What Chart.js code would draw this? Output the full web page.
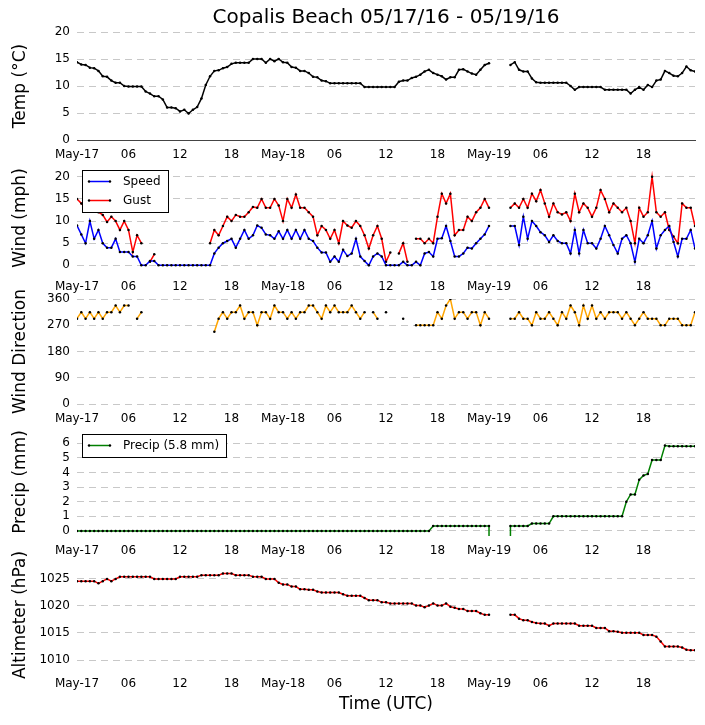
<!DOCTYPE html>
<html>
<head>
<meta charset="utf-8">
<title>Copalis Beach 05/17/16 - 05/19/16</title>
<script src="https://cdn.jsdelivr.net/npm/chart.js@4.4.1/dist/chart.umd.min.js"></script>
<style>
  body { margin: 0; background: #fff; }
  #wrap { position: relative; width: 705px; height: 725px; overflow: hidden; }
  canvas { position: absolute; left: 0; }
</style>
</head>
<body>
<div id="wrap">
  <canvas id="temp" width="705" height="168" style="top:0px"></canvas>
  <canvas id="wind" width="705" height="152" style="top:148px"></canvas>
  <canvas id="dir" width="705" height="149" style="top:283px"></canvas>
  <canvas id="precip" width="705" height="152" style="top:412px"></canvas>
  <canvas id="alt" width="705" height="174" style="top:545px"></canvas>
</div>
<script>
// time axis: hours since May-17 00:00 UTC, one reading every 30 min
const hours = Array.from({ length: 145 }, (_, i) => i / 2);
const tickHours = [0, 6, 12, 18, 24, 30, 36, 42, 48, 54, 60, 66];
const tickLabels = ['May-17', '06', '12', '18', 'May-18', '06', '12', '18', 'May-19', '06', '12', '18'];

const tempTicks = [0, 5, 10, 15, 20];
const windTicks = [0, 5, 10, 15, 20];
const dirTicks = [0, 90, 180, 270, 360];
const precipTicks = [0, 1, 2, 3, 4, 5, 6];
const altTicks = [1010, 1015, 1020, 1025];

// one row = 6 hours
const temperature = [
  14.4, 14.0, 13.9, 13.4, 13.3, 12.8, 11.8, 11.7, 11.0, 10.6, 10.6, 10.0,
  9.9, 9.9, 9.9, 9.9, 9.0, 8.6, 8.1, 8.1, 7.5, 6.0, 6.0, 5.9,
  5.3, 5.6, 4.9, 5.6, 6.1, 7.7, 10.2, 11.8, 12.8, 12.9, 13.3, 13.5,
  14.1, 14.3, 14.3, 14.3, 14.3, 15.0, 15.0, 15.0, 14.3, 15.0, 14.6, 15.0,
  14.4, 14.3, 13.5, 13.4, 12.8, 12.8, 12.4, 11.7, 11.6, 11.0, 10.9, 10.5,
  10.5, 10.5, 10.5, 10.5, 10.5, 10.5, 10.5, 9.8, 9.8, 9.8, 9.8, 9.8,
  9.8, 9.8, 9.8, 10.8, 11.0, 11.0, 11.5, 11.7, 12.1, 12.7, 13.0, 12.4,
  12.1, 11.8, 11.2, 11.6, 11.6, 13.0, 13.1, 12.7, 12.3, 12.1, 13.0, 13.9,
  14.2, null, null, null, null, 13.9, 14.4, 13.0, 12.7, 12.7, 11.4, 10.7,
  10.6, 10.6, 10.6, 10.6, 10.6, 10.6, 10.6, 10.0, 9.3, 9.8, 9.8, 9.8,
  9.8, 9.8, 9.8, 9.3, 9.3, 9.3, 9.3, 9.3, 9.3, 8.6, 9.3, 9.8,
  9.3, 10.2, 9.8, 11.0, 11.2, 12.8, 12.4, 11.9, 11.8, 12.4, 13.6, 12.9,
  12.7
];

const windSpeed = [
  9, 7, 5, 10, 6, 8, 5, 4, 4, 6, 3, 3,
  3, 2, 2, 0, 0, 1, 1, 0, 0, 0, 0, 0,
  0, 0, 0, 0, 0, 0, 0, 0, 2.7, 4, 5, 5.5,
  6, 4, 6, 8, 6, 6.8, 9, 8.5, 7, 6.8, 6, 7.7,
  6, 8, 6, 8, 6, 8, 6, 5.5, 4, 2.9, 2.9, 0.8,
  2, 0.8, 3.5, 2.1, 2.7, 6, 2, 1, 0, 2, 2.7, 2,
  0, 0, 0, 0, 0.8, 0, 0, 0.8, 0, 2.7, 3, 2,
  6, 6.1, 8.9, 5.5, 2, 2, 2.7, 4, 3.8, 5, 6, 7,
  8.9, null, null, null, null, 8.9, 8.9, 4.6, 11, 6, 10, 8.9,
  7.5, 6.8, 5.3, 6.8, 5.5, 5, 5, 2.7, 8, 2.7, 8, 5,
  5, 3.8, 6, 8.9, 6.8, 4.6, 2.7, 6, 6.8, 5, 0.8, 6,
  5, 6.8, 10, 3.8, 6.8, 8, 8.9, 5.3, 2, 6, 6, 8,
  3.8
];

const windGust = [
  15, 14, 13, 14, 13, 12, 11.4, 9.8, 11, 10, 8, 10,
  8, 3, 6.8, 5, null, 0.8, 2.5, null, null, null, null, null,
  null, null, null, null, null, null, null, 5, 8, 6.8, 8.9, 11,
  10, 11.4, 11, 11, 12, 13.2, 13, 15, 13, 13, 15, 13.5,
  10, 15, 13, 16, 13, 13, 12, 11, 6.8, 8.9, 8, 6,
  8, 5, 10, 9, 8.5, 10, 8.9, 6.8, 3.8, 6.8, 8.9, 6,
  0.8, 2.9, null, 2.7, 5, 0.8, null, 6, 6, 5, 6, 5,
  11, 16.2, 14, 16.2, 6.8, 8, 8, 11, 10, 12, 13, 15,
  13, null, null, null, null, 13, 14, 13, 15, 13, 16.2, 14.5,
  17, 14, 11, 14, 12, 11.5, 12, 10, 16.2, 12, 14, 13,
  11, 13, 17, 15, 12, 14, 13, 12, 13, 10, 5, 13,
  11, 12, 20, 12, 11, 12, 8, 6.5, 5, 14, 13, 13,
  8.9
];

const windDir = [
  292.5, 315, 292.5, 315, 292.5, 315, 292.5, 315, 315, 337.5, 315, 337.5,
  337.5, null, 292.5, 315, null, null, null, null, null, null, null, null,
  null, null, null, null, null, null, null, null, 247.5, 292.5, 315, 292.5,
  315, 315, 337.5, 292.5, 315, 315, 270, 315, 315, 292.5, 337.5, 315,
  315, 292.5, 315, 292.5, 315, 315, 337.5, 337.5, 315, 292.5, 337.5, 315,
  337.5, 315, 315, 315, 337.5, 315, 292.5, 315, null, 315, 292.5, null,
  315, null, null, null, 292.5, null, null, 270, 270, 270, 270, 270,
  315, 292.5, 337.5, 360, 292.5, 315, 315, 292.5, 315, 315, 270, 315,
  292.5, null, null, null, null, 292.5, 292.5, 315, 292.5, 292.5, 270, 315,
  292.5, 292.5, 315, 292.5, 270, 315, 292.5, 337.5, 315, 270, 337.5, 292.5,
  337.5, 292.5, 315, 292.5, 315, 315, 315, 292.5, 315, 292.5, 270, 292.5,
  315, 292.5, 292.5, 292.5, 270, 270, 292.5, 292.5, 292.5, 270, 270, 270,
  315
];

// -99 = station's missing-value flag, drawn as the drop at the data gap
const precip = [
  0, 0, 0, 0, 0, 0, 0, 0, 0, 0, 0, 0,
  0, 0, 0, 0, 0, 0, 0, 0, 0, 0, 0, 0,
  0, 0, 0, 0, 0, 0, 0, 0, 0, 0, 0, 0,
  0, 0, 0, 0, 0, 0, 0, 0, 0, 0, 0, 0,
  0, 0, 0, 0, 0, 0, 0, 0, 0, 0, 0, 0,
  0, 0, 0, 0, 0, 0, 0, 0, 0, 0, 0, 0,
  0, 0, 0, 0, 0, 0, 0, 0, 0, 0, 0, 0.34,
  0.34, 0.34, 0.34, 0.34, 0.34, 0.34, 0.34, 0.34, 0.34, 0.34, 0.34, 0.34,
  0.34, -99, null, null, -99, 0.34, 0.34, 0.34, 0.34, 0.34, 0.5, 0.5,
  0.5, 0.5, 0.5, 1, 1, 1, 1, 1, 1, 1, 1, 1,
  1, 1, 1, 1, 1, 1, 1, 1, 2.0, 2.5, 2.5, 3.5,
  3.8, 3.9, 4.85, 4.85, 4.85, 5.85, 5.8, 5.8, 5.8, 5.8, 5.8, 5.8,
  5.8
];

const altimeter = [
  1024.5, 1024.5, 1024.5, 1024.5, 1024.5, 1024.1, 1024.5, 1024.9, 1024.5, 1024.9, 1025.3, 1025.3,
  1025.3, 1025.3, 1025.3, 1025.3, 1025.3, 1025.3, 1024.9, 1024.9, 1024.9, 1024.9, 1024.9, 1024.9,
  1025.3, 1025.3, 1025.3, 1025.3, 1025.3, 1025.6, 1025.6, 1025.6, 1025.6, 1025.6, 1025.9, 1025.9,
  1025.9, 1025.6, 1025.6, 1025.6, 1025.6, 1025.3, 1025.3, 1025.3, 1024.9, 1024.9, 1024.9, 1024.2,
  1023.9, 1023.9, 1023.5, 1023.5, 1023.0, 1023.0, 1022.9, 1022.9, 1022.6, 1022.4, 1022.4, 1022.4,
  1022.4, 1022.4, 1022.1, 1021.8, 1021.8, 1021.8, 1021.8, 1021.4, 1021.0, 1021.0, 1021.0, 1020.6,
  1020.6, 1020.4, 1020.4, 1020.4, 1020.4, 1020.4, 1020.4, 1020.0, 1020.0, 1019.7, 1020.0, 1020.4,
  1020.0, 1020.0, 1020.4, 1019.8, 1019.6, 1019.4, 1019.4, 1019.0, 1019.0, 1019.0, 1018.6, 1018.3,
  1018.3, null, null, null, null, 1018.3, 1018.3, 1017.6, 1017.3, 1017.3, 1017.0, 1016.8,
  1016.7, 1016.7, 1016.3, 1016.7, 1016.7, 1016.7, 1016.7, 1016.7, 1016.7, 1016.3, 1016.3, 1016.3,
  1016.3, 1015.9, 1015.9, 1015.9, 1015.3, 1015.3, 1015.2, 1015.0, 1015.0, 1015.0, 1015.0, 1015.0,
  1014.6, 1014.6, 1014.6, 1014.3, 1013.4, 1012.5, 1012.5, 1012.5, 1012.5, 1012.3, 1011.9, 1011.8,
  1011.8
];

Chart.defaults.font.family = "'DejaVu Sans', sans-serif";
Chart.defaults.font.size = 12;
Chart.defaults.color = '#000';

// legend box drawn inside the upper left corner of the plot
const insetLegend = {
  id: 'insetLegend',
  afterDatasetsDraw(chart) {
    const ctx = chart.ctx;
    const area = chart.chartArea;
    const sets = chart.data.datasets;
    const rowH = 19;
    ctx.save();
    ctx.font = "12px 'DejaVu Sans'";
    const textW = Math.max(...sets.map(ds => ctx.measureText(ds.label).width));
    const x = area.left + 5, y = area.top + 6;
    const w = Math.round(41 + textW + 7), h = sets.length * rowH + 4;
    ctx.fillStyle = '#fff';
    ctx.fillRect(x, y, w, h);
    ctx.strokeStyle = '#000';
    ctx.lineWidth = 1;
    ctx.strokeRect(x + 0.5, y + 0.5, w, h);
    sets.forEach((ds, i) => {
      const cy = y + 2 + rowH * i + rowH / 2;
      ctx.strokeStyle = ds.borderColor;
      ctx.lineWidth = 1.5;
      ctx.beginPath();
      ctx.moveTo(x + 7, cy);
      ctx.lineTo(x + 28, cy);
      ctx.stroke();
      ctx.fillStyle = '#000';
      [x + 7, x + 28].forEach(px => {
        ctx.beginPath();
        ctx.arc(px, cy, 1.2, 0, Math.PI * 2);
        ctx.fill();
      });
      ctx.textBaseline = 'middle';
      ctx.fillText(ds.label, x + 41, cy);
    });
    ctx.restore();
  }
};

function points(values) {
  return hours.map((h, i) => ({ x: h, y: values[i] }));
}

function series(label, values, color) {
  return {
    label: label,
    data: points(values),
    borderColor: color,
    borderWidth: 1.5,
    pointRadius: 1.25,
    pointHoverRadius: 0,
    pointBackgroundColor: '#000',
    pointBorderWidth: 0,
    tension: 0
  };
}

function makePanel(id, datasets, cfg) {
  const xAxis = {
    type: 'linear',
    min: 0,
    max: 72,
    afterBuildTicks: s => { s.ticks = tickHours.map(v => ({ value: v })); },
    afterFit: s => { s.height = cfg.xHeight || 28; },
    ticks: { callback: (v, i) => tickLabels[i], padding: 8, maxRotation: 0, autoSkip: false },
    grid: { display: false, drawTicks: false },
    border: cfg.xBorder ? { display: true, color: '#444', width: 1 } : { display: false }
  };
  if (cfg.xTitle) {
    xAxis.title = { display: true, text: cfg.xTitle, font: { size: 17 }, padding: { top: 0, bottom: 4 } };
  }
  return new Chart(document.getElementById(id), {
    type: 'line',
    data: { datasets: datasets },
    plugins: cfg.legend ? [insetLegend] : [],
    options: {
      responsive: false,
      animation: false,
      events: [],
      layout: { padding: { top: cfg.padTop, right: 10, left: 0, bottom: 0 } },
      plugins: {
        legend: { display: false },
        tooltip: { enabled: false },
        title: cfg.title || { display: false }
      },
      scales: {
        x: xAxis,
        y: {
          min: cfg.min,
          max: cfg.max,
          afterBuildTicks: s => { s.ticks = cfg.ticks.map(v => ({ value: v })); },
          afterFit: s => { s.width = 77; },
          ticks: { padding: 7, callback: v => String(v) },
          grid: { color: '#c8c8c8', lineWidth: 1, drawTicks: false },
          border: { display: false, dash: [7, 5] },
          title: { display: true, text: cfg.yTitle, font: { size: 17 }, padding: { top: 10, bottom: 0 } }
        }
      }
    }
  });
}

makePanel('temp', [series('Temp', temperature, '#000')], {
  padTop: 0, min: 0, max: 20, ticks: tempTicks, yTitle: 'Temp (°C)', xBorder: true,
  title: {
    display: true, text: 'Copalis Beach 05/17/16 - 05/19/16', fullSize: false,
    font: { size: 20, weight: 'normal' }, padding: { top: 6, bottom: 2 }
  }
});

makePanel('wind', [
  series('Speed', windSpeed, '#0000ff'),
  series('Gust', windGust, '#ff0000')
], { padTop: 16, min: -1.5, max: 22.9, ticks: windTicks, yTitle: 'Wind (mph)', legend: true });

makePanel('dir', [series('Direction', windDir, '#ffa500')], {
  padTop: 16, min: 0, max: 360, ticks: dirTicks, yTitle: 'Wind Direction'
});

makePanel('precip', [series('Precip (5.8 mm)', precip, '#008000')], {
  padTop: 16, min: -0.35, max: 7.05, ticks: precipTicks, yTitle: 'Precip (mm)', legend: true
});

makePanel('alt', [series('Altimeter', altimeter, '#ff0000')], {
  padTop: 16, min: 1008.35, max: 1028.2, ticks: altTicks, yTitle: 'Altimeter (hPa)',
  xHeight: 50, xTitle: 'Time (UTC)'
});
</script>
</body>
</html>
